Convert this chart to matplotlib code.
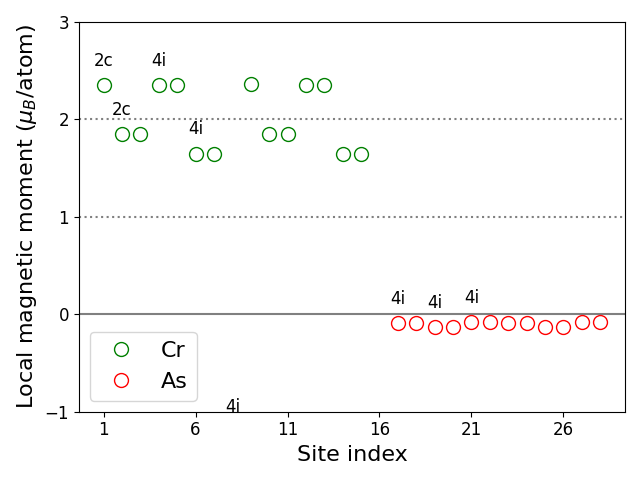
import matplotlib
matplotlib.use("Agg")
import matplotlib.pyplot as plt

cr_x = [1, 2, 3, 4, 5, 6, 7, 8, 9, 10, 11, 12, 13, 14, 15]
cr_y = [2.35, 1.85, 1.85, 2.35, 2.35, 1.65, 1.65, -1.2, 2.36, 1.85, 1.85, 2.35, 2.35, 1.65, 1.65]
as_x = [17, 18, 19, 20, 21, 22, 23, 24, 25, 26, 27, 28]
as_y = [-0.09, -0.09, -0.13, -0.13, -0.08, -0.08, -0.09, -0.09, -0.13, -0.13, -0.08, -0.08]

label_x = [1, 2, 4, 6, 8, 17, 19, 21]
label_y = [2.35, 1.85, 2.35, 1.65, -1.2, -0.09, -0.13, -0.08]
label_t = ["2c", "2c", "4i", "4i", "4i", "4i", "4i", "4i"]

xticks = [1, 6, 11, 16, 21, 26]

fig, ax = plt.subplots(figsize=(6.4, 4.8), dpi=100)
ax.axhline(0, color="grey", lw=1.5)
ax.axhline(1, color="grey", ls=":", lw=1.5)
ax.axhline(2, color="grey", ls=":", lw=1.5)
ax.plot(cr_x, cr_y, "o", mfc="none", mec="green", ms=10, label="Cr")
ax.plot(as_x, as_y, "o", mfc="none", mec="red", ms=10, label="As")
for x, y, t in zip(label_x, label_y, label_t):
    ax.text(x, y + 0.25, t, ha="center", va="center", fontsize=12)
ax.set_ylim(-1, 3)
ax.set_xticks(xticks)
ax.set_yticks([-1, 0, 1, 2, 3])
ax.tick_params(labelsize=12)
ax.set_xlabel("Site index", fontsize=16)
ax.set_ylabel(r"Local magnetic moment ($\mu_B$/atom)", fontsize=16)
ax.legend(loc="lower left", fontsize=16)
fig.tight_layout()
fig.savefig("out.png")
